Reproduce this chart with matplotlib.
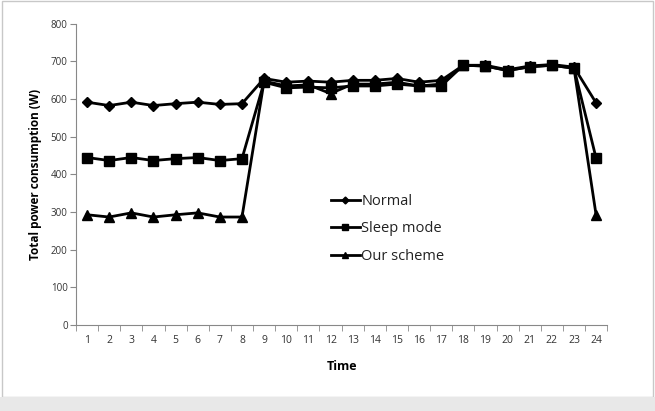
import matplotlib
matplotlib.use("Agg")
import matplotlib.pyplot as plt
from matplotlib.patches import Rectangle
import numpy as np

time = list(range(1, 25))
normal = [592, 583, 592, 583, 588, 592, 586, 588, 655, 645, 648, 645, 650, 650, 655, 645, 650,
          690, 690, 678, 688, 692, 685, 590]
sleep = [445, 437, 445, 437, 442, 445, 437, 442, 645, 630, 632, 630, 635, 635, 640, 635, 635,
         690, 688, 676, 686, 690, 682, 443]
ours = [293, 287, 298, 287, 293, 298, 287, 287, 648, 635, 638, 615, 640, 640, 645, 635, 640,
        690, 688, 676, 686, 690, 682, 292]
yticks = [0, 100, 200, 300, 400, 500, 600, 700, 800]

plt.rcParams['font.family'] = ['Open Sans', 'DejaVu Sans']

fig = plt.figure(figsize=(6.55, 4.11), dpi=100)
fig.patches.append(Rectangle((0.003, 0.035), 0.994, 0.962, transform=fig.transFigure,
                             fill=False, edgecolor='#c8c8c8', linewidth=1.0))
fig.patches.append(Rectangle((0, 0), 1, 0.033, transform=fig.transFigure,
                             facecolor='#e8e8e8', edgecolor='none'))
ax = fig.add_axes([0.116, 0.209, 0.811, 0.733])

ax.plot(time, normal, color='black', lw=2, marker='D', ms=5, label='Normal')
ax.plot(time, sleep, color='black', lw=2, marker='s', ms=7, label='Sleep mode')
ax.plot(time, ours, color='black', lw=2, marker='^', ms=7, label='Our scheme')

ax.set_xlim(0.5, 24.5)
ax.set_ylim(0, 800)
ax.set_yticks(yticks)
ax.set_yticklabels([str(v) for v in yticks], fontsize=7, color='#333333')
ax.set_xticks(time)
ax.set_xticklabels([str(t) for t in time], fontsize=7.5, color='#333333')
ax.set_xticks(np.arange(0.5, 25, 1), minor=True)
ax.tick_params(axis='x', which='major', length=0, pad=7)
ax.tick_params(axis='x', which='minor', length=4, color='#888888', direction='out')
ax.tick_params(axis='y', length=4, color='#888888', direction='out', pad=2)
for s in ['top', 'right']:
    ax.spines[s].set_visible(False)
for s in ['left', 'bottom']:
    ax.spines[s].set_color('#888888')
ax.set_xlabel('Time', fontsize=9, fontweight='bold', labelpad=10)
ax.set_ylabel('Total power consumption (W)', fontsize=8.5, fontweight='bold', labelpad=6)

leg = ax.legend(loc='upper left', bbox_to_anchor=(0.46, 0.47), frameon=False, fontsize=10.5,
                handlelength=2.0, handletextpad=0.1, labelspacing=0.87, markerscale=0.7,
                borderpad=0.2)
for t in leg.get_texts():
    t.set_color('#222222')

fig.savefig('out.png', dpi=100)
